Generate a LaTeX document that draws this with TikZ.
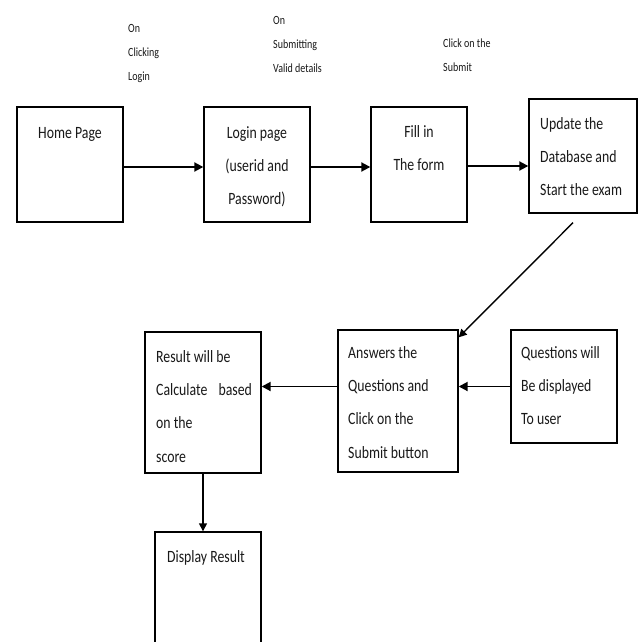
\documentclass[tikz,border=0pt]{standalone}
\usepackage{fontspec}
\setmainfont{Carlito}
\usetikzlibrary{arrows.meta}
\tikzset{
  box/.style={draw=black, line width=1.4pt, rectangle, inner sep=0pt},
  txt/.style={inner sep=0pt, yscale=1.25, font=\fontsize{13.8}{26.64}\selectfont, text=black!90},
  lbl/.style={inner sep=0pt, yscale=1.25, font=\fontsize{10}{19.2}\selectfont, anchor=north west, align=left, text=black!90},
  arr/.style={line width=1.9pt, -{Triangle[length=9pt,width=9pt]}},
  arrthin/.style={line width=1.4pt, -{Triangle[length=8pt,width=8pt]}},
}
\newcommand{\fs}{\rule{0pt}{9.6pt}}
\newcommand{\ls}{\rule{0pt}{7.2pt}}
\begin{document}
\begin{tikzpicture}[x=1pt,y=-1pt]
\clip (0,0) rectangle (638,642);
\fill[white] (0,0) rectangle (638,642);
% boxes
\node[box, minimum width=106pt, minimum height=115pt] (home) at (70,164.5) {};
\node[box, minimum width=106pt, minimum height=115pt] (login) at (257,164.5) {};
\node[box, minimum width=96pt, minimum height=115pt] (fill) at (419,164.5) {};
\node[box, minimum width=108pt, minimum height=114pt] (update) at (583,156) {};
\node[box, minimum width=120pt, minimum height=142pt] (ans) at (398,401) {};
\node[box, minimum width=106pt, minimum height=113pt] (ques) at (564,386.5) {};
\node[box, minimum width=116pt, minimum height=141pt] (res) at (203,402.5) {};
\node[box, minimum width=106pt, minimum height=128pt] (disp) at (208,596) {};
% box texts
\node[txt, anchor=north, align=center] (thome) at (70,126) {\fs Home Page};
\node[txt, anchor=north, align=center] (tlogin) at (257,126) {\fs Login page\\(userid and\\Password)};
\node[txt, anchor=north, align=center] (tfill) at (419,125) {\fs Fill in\\The form};
\node[txt, anchor=north west, align=left] (tupdate) at (540,117) {\fs Update the\\Database and\\Start the exam};
\node[txt, anchor=north west, align=left] (tans) at (348,346) {\fs Answers the\\Questions and\\Click on the\\Submit button};
\node[txt, anchor=north west, align=left] (tques) at (521,346) {\fs Questions will\\Be displayed\\To user};
\node[txt, anchor=north west, align=left] (tres) at (156,350) {\fs Result will be\\Calculate\hspace*{8pt} based\\on the\\score};
\node[txt, anchor=north, align=center] (tdisp) at (206,550) {\fs Display Result};
% labels
\node[lbl] (l1) at (128,23) {\ls On\\Clicking\\Login};
\node[lbl] (l2) at (273,15) {\ls On\\Submitting\\Valid details};
\node[lbl] (l3) at (443,38) {\ls Click on the\\Submit};
% arrows
\draw[arr] ([yshift=-2.5pt]home.east) -- ([yshift=-2.5pt]login.west);
\draw[arr] ([yshift=-2.5pt]login.east) -- ([yshift=-2.5pt]fill.west);
\draw[arr] ([yshift=-1.5pt]fill.east) -- ([yshift=-10pt]update.west);
\draw[arrthin] ([shift={(-10pt,-9pt)}]update.south) -- ([yshift=-8pt]ans.north east);
\draw[arr] (ques.west) -- (ans.east |- ques.west);
\draw[arr] (ans.west |- ques.west) -- (res.east |- ques.west);
\draw[arrthin] (res.south) -- (res.south |- disp.north);
\end{tikzpicture}
\end{document}
